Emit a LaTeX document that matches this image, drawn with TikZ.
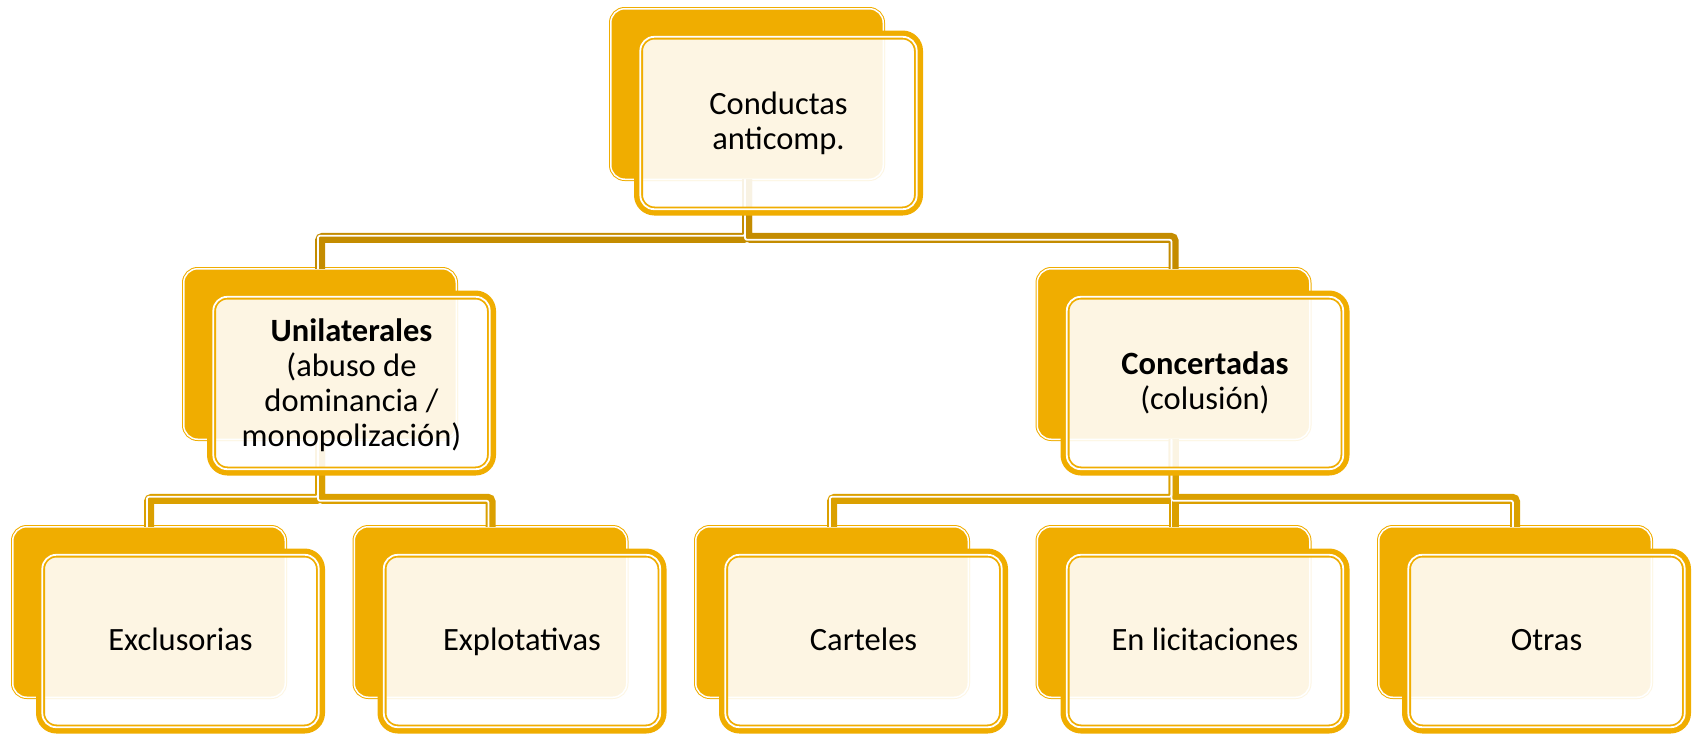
\documentclass[tikz,border=0pt]{standalone}
\usepackage{fontspec}
\setmainfont{Carlito}
\definecolor{gold}{HTML}{F0AD00}
\definecolor{linkdark}{HTML}{C48C00}
\definecolor{linkmid}{HTML}{DBA000}

\begin{document}
\begin{tikzpicture}
  [x=1pt,y=-1pt,
   backbox/.style={draw=gold, double=white, line width=1pt, double distance=1.5pt,
     fill=gold, rounded corners=14pt, minimum width=272.5pt, minimum height=170.5pt,
     inner sep=0pt, outer sep=0pt},
   frontbox/.style={draw=gold, line width=9pt, fill=white, fill opacity=0.89,
     text opacity=1, rounded corners=16pt, minimum width=280pt, minimum height=176pt,
     inner sep=0pt, outer sep=0pt, align=center, font=\fontsize{32.5}{35}\selectfont},
   oneline/.style={text height=24pt, text depth=6pt},
   innerline/.style={draw=white, line width=1.8pt, rounded corners=14pt},
   link/.style={line width=10pt, rounded corners=3pt},
   stripe/.style={draw=white, line width=1.8pt, rounded corners=2pt}]
  \useasboundingbox (0,0) rectangle (1692,734);

  % back boxes
  \node[backbox] (topb) at (747,94)    {};
  \node[backbox] (unib) at (320,354)   {};
  \node[backbox] (conb) at (1173.5,354) {};
  \node[backbox] (excb) at (149,612)   {};
  \node[backbox] (expb) at (490.5,612) {};
  \node[backbox] (carb) at (832,612)   {};
  \node[backbox] (licb) at (1173.5,612) {};
  \node[backbox] (otrb) at (1515,612)  {};

  % connectors
  \draw[link,linkdark] (topb.south) |- ([yshift=31pt]unib.north) -- (unib.north);
  \draw[link,linkdark] (topb.south) |- ([yshift=31pt]conb.north) -- (conb.north);
  \draw[link,linkmid] (unib.south) |- ([yshift=28pt]excb.north) -- (excb.north);
  \draw[link,linkmid] (unib.south) |- ([yshift=28pt]expb.north) -- (expb.north);
  \draw[link,linkmid] (conb.south) |- ([yshift=28pt]carb.north) -- (carb.north);
  \draw[link,linkmid] (conb.south) |- ([yshift=28pt]licb.north) -- (licb.north);
  \draw[link,linkmid] (conb.south) |- ([yshift=28pt]otrb.north) -- (otrb.north);

  \draw[stripe] ([xshift=-2pt]topb.south) |- ([xshift=-2pt,yshift=33pt]unib.north) -- ([xshift=-2pt]unib.north);
  \draw[stripe] ([xshift=-2pt]topb.south) |- ([xshift=-2pt,yshift=29pt]conb.north) -- ([xshift=-2pt]conb.north);
  \draw[stripe] ([xshift=-2pt]unib.south) |- ([xshift=-2pt,yshift=30pt]excb.north) -- ([xshift=-2pt]excb.north);
  \draw[stripe] ([xshift=-2pt]unib.south) |- ([xshift=-2pt,yshift=26pt]expb.north) -- ([xshift=-2pt]expb.north);
  \draw[stripe] ([xshift=-2pt]conb.south) |- ([xshift=-2pt,yshift=30pt]carb.north) -- ([xshift=-2pt]carb.north);
  \draw[stripe] ([xshift=-2pt]conb.south) |- ([xshift=-2pt,yshift=26pt]licb.north) -- ([xshift=-2pt]licb.north);
  \draw[stripe] ([xshift=-2pt]conb.south) |- ([xshift=-2pt,yshift=26pt]otrb.north) -- ([xshift=-2pt]otrb.north);

  % front boxes
  \node[frontbox] (top) at (778.5,123) {Conductas\\anticomp.};
  \node[frontbox] (uni) at (351.5,383) {\rule{0pt}{27pt}\textbf{Unilaterales}\\(abuso de\\dominancia /\\monopolización)};
  \node[frontbox] (con) at (1205,383)  {\textbf{Concertadas}\\(colusión)};
  \node[frontbox,oneline] (exc) at (180.5,641) {Exclusorias};
  \node[frontbox,oneline] (exp) at (522,641)   {Explotativas};
  \node[frontbox,oneline] (car) at (863.5,641) {Carteles};
  \node[frontbox,oneline] (lic) at (1205,641)  {En licitaciones};
  \node[frontbox,oneline] (otr) at (1546.5,641) {Otras};

  \foreach \n in {top,uni,con,exc,exp,car,lic,otr}
    \draw[innerline] ([xshift=1.8pt,yshift=-1.8pt]\n.north west) rectangle ([xshift=-1.8pt,yshift=1.8pt]\n.south east);
\end{tikzpicture}
\end{document}
